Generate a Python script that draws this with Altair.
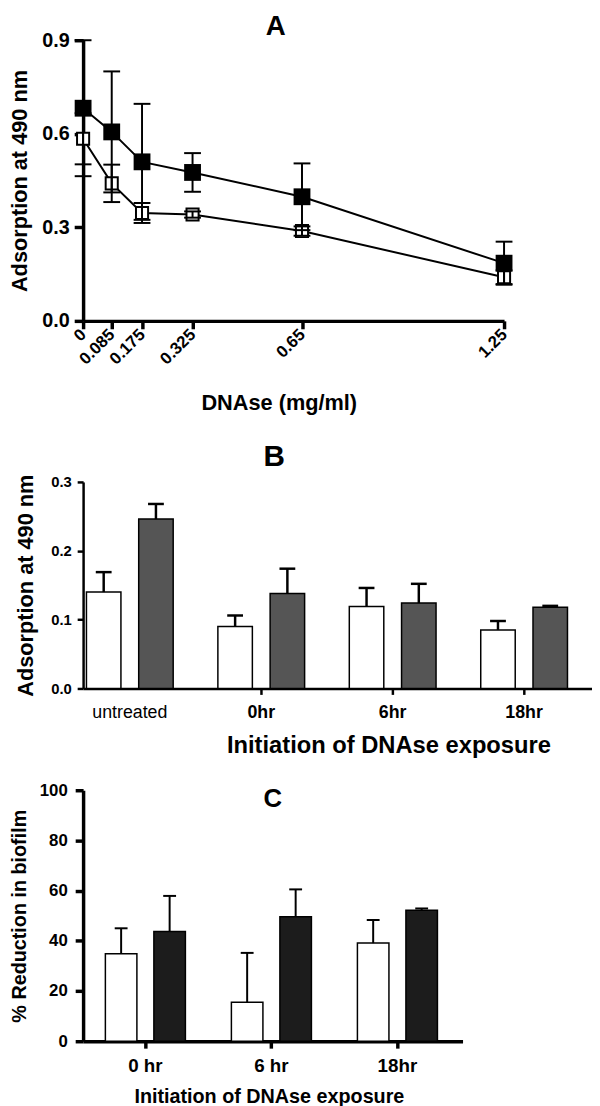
import altair as alt
import pandas as pd

FONT = "Liberation Sans"

# ---------------- Panel A data ----------------
conc = [0, 0.085, 0.175, 0.325, 0.65, 1.25]
filled_mean = [0.682, 0.606, 0.510, 0.476, 0.398, 0.185]
filled_err = [0.218, 0.194, 0.186, 0.062, 0.107, 0.069]
open_mean = [0.584, 0.441, 0.346, 0.341, 0.288, 0.140]
open_err = [0.082, 0.060, 0.032, 0.010, 0.015, 0.022]

# ---------------- Panel B data ----------------
b_groups = ["untreated", "0hr", "6hr", "18hr"]
b_white = [0.140, 0.090, 0.119, 0.085]
b_white_err = [0.029, 0.016, 0.027, 0.013]
b_dark = [0.246, 0.138, 0.124, 0.118]
b_dark_err = [0.022, 0.036, 0.028, 0.002]

# ---------------- Panel C data ----------------
c_groups = ["0 hr", "6 hr", "18hr"]
c_white = [34.9, 15.5, 39.1]
c_white_err = [10.1, 19.7, 9.2]
c_black = [43.7, 49.6, 52.2]
c_black_err = [14.2, 10.9, 0.7]

# ---------------- Panel A ----------------
rows_a = []
for i, c in enumerate(conc):
    rows_a.append(dict(conc=c, series="open", mean=open_mean[i],
                       lo=open_mean[i] - open_err[i], hi=open_mean[i] + open_err[i]))
    rows_a.append(dict(conc=c, series="filled", mean=filled_mean[i],
                       lo=filled_mean[i] - filled_err[i], hi=filled_mean[i] + filled_err[i]))
df_a = pd.DataFrame(rows_a)

WA, HA = 426, 284
ytitle_a = "Adsorption at 490 nm"
xA = alt.X("conc:Q", scale=alt.Scale(domain=[0, 1.25], nice=False, zero=False),
           axis=alt.Axis(values=conc, format=".3~f", title="DNAse (mg/ml)",
                         labelAngle=-45, labelAlign="right", labelBaseline="middle",
                         labelFontSize=17, labelFontWeight="bold", labelPadding=3,
                         labelOverlap=False, labelBound=False,
                         tickSize=8, tickWidth=3.5, domainWidth=3.5,
                         titleFontSize=22, titleX=198, titleY=73, titleBaseline="top"))
yA = alt.Y("mean:Q", scale=alt.Scale(domain=[0, 0.9], nice=False),
           axis=alt.Axis(values=[0, 0.3, 0.6, 0.9], format=".1f", title=ytitle_a,
                         labelFontSize=20, labelFontWeight="bold", labelPadding=5,
                         tickSize=9, tickWidth=3.5, domainWidth=3.5,
                         titleFontSize=22, titleX=-52, titleY=HA / 2))
base_a = alt.Chart(df_a)
lines_a = base_a.mark_line(color="black", strokeWidth=2).encode(x=xA, y=yA, detail="series:N")
open_pts = base_a.transform_filter("datum.series == 'open'").mark_square(
    fill="white", stroke="black", strokeWidth=2, size=150, opacity=1
).encode(x="conc:Q", y=alt.Y("mean:Q", title=ytitle_a))
err_a = base_a.mark_rule(color="black", strokeWidth=2).encode(
    x="conc:Q", y=alt.Y("lo:Q", title=ytitle_a), y2="hi:Q")
cap_lo_a = base_a.mark_tick(orient="horizontal", size=17, thickness=2, color="black", opacity=1).encode(
    x="conc:Q", y=alt.Y("lo:Q", title=ytitle_a))
cap_hi_a = base_a.mark_tick(orient="horizontal", size=17, thickness=2, color="black", opacity=1).encode(
    x="conc:Q", y=alt.Y("hi:Q", title=ytitle_a))
filled_pts = base_a.transform_filter("datum.series == 'filled'").mark_square(
    color="black", size=290, opacity=1
).encode(x="conc:Q", y=alt.Y("mean:Q", title=ytitle_a))

chart_a = alt.layer(lines_a, open_pts, err_a, cap_lo_a, cap_hi_a, filled_pts).properties(
    width=WA, height=HA,
    title=alt.TitleParams("A", fontSize=28, fontWeight="bold", dx=-18, offset=-11))

# ---------------- Panel B ----------------
rows_b = []
for i, g in enumerate(b_groups):
    rows_b.append(dict(grpB=g, serB="white", value=b_white[i], hi=b_white[i] + b_white_err[i]))
    rows_b.append(dict(grpB=g, serB="dark", value=b_dark[i], hi=b_dark[i] + b_dark_err[i]))
df_b = pd.DataFrame(rows_b)

WB, HB = 515, 209
ytitle_b = "Adsorption at 490 nm"
xB = alt.X("grpB:N", sort=b_groups,
           scale=alt.Scale(paddingInner=0.34, paddingOuter=0.106, align=0.12),
           axis=alt.Axis(title="Initiation of DNAse exposure", labelAngle=0,
                         labelFontSize=18,
                         labelFontWeight={"condition": {"test": "datum.value == 'untreated'", "value": "normal"}, "value": "bold"},
                         tickOpacity={"condition": {"test": "datum.value == 'untreated'", "value": 0}, "value": 1},
                         labelPadding=9, tickSize=6, tickWidth=2.5, domainWidth=2.5,
                         titleFontSize=24, titleX=309, titleY=46, titleBaseline="top"))
xoffB = alt.XOffset("serB:N", sort=["white", "dark"], scale=alt.Scale(paddingInner=0.34, paddingOuter=0))
yB = alt.Y("value:Q", scale=alt.Scale(domain=[0, 0.3], nice=False),
           axis=alt.Axis(values=[0, 0.1, 0.2, 0.3], format=".1f", title=ytitle_b,
                         labelFontSize=15, labelFontWeight="bold", labelPadding=6,
                         tickSize=6, tickWidth=2.5, domainWidth=2.5,
                         titleFontSize=22, titleX=-46, titleY=HB / 2))
base_b = alt.Chart(df_b)
bars_b = base_b.mark_bar(stroke="black", strokeWidth=1.5, opacity=1).encode(
    x=xB, xOffset=xoffB, y=yB,
    color=alt.Color("serB:N", scale=alt.Scale(domain=["white", "dark"], range=["#ffffff", "#555555"]), legend=None))
err_b = base_b.mark_rule(color="black", strokeWidth=2.5).encode(
    x=xB, xOffset=xoffB, y=alt.Y("value:Q", title=ytitle_b), y2="hi:Q")
cap_b = base_b.mark_tick(orient="horizontal", size=16, thickness=2.5, color="black", opacity=1).encode(
    x=xB, xOffset=xoffB, y=alt.Y("hi:Q", title=ytitle_b))
chart_b = alt.layer(bars_b, err_b, cap_b).properties(
    width=WB, height=HB,
    title=alt.TitleParams("B", fontSize=30, fontWeight="bold", dx=-64, offset=2))

# ---------------- Panel C ----------------
rows_c = []
for i, g in enumerate(c_groups):
    rows_c.append(dict(grpC=g, serC="cwhite", value=c_white[i], hi=c_white[i] + c_white_err[i]))
    rows_c.append(dict(grpC=g, serC="cblack", value=c_black[i], hi=c_black[i] + c_black_err[i]))
df_c = pd.DataFrame(rows_c)

WC, HC = 384, 254
ytitle_c = "% Reduction in biofilm"
xC = alt.X("grpC:N", sort=c_groups,
           scale=alt.Scale(paddingInner=0.365, paddingOuter=0.188, align=0.47),
           axis=alt.Axis(title="Initiation of DNAse exposure", labelAngle=0,
                         labelFontSize=19, labelFontWeight="bold", labelPadding=9,
                         tickSize=7, tickWidth=3.5, domainWidth=3.5,
                         titleFontSize=20, titleX=188, titleY=46, titleBaseline="top"))
xoffC = alt.XOffset("serC:N", sort=["cwhite", "cblack"], scale=alt.Scale(paddingInner=0.35, paddingOuter=0))
yC = alt.Y("value:Q", scale=alt.Scale(domain=[0, 100], nice=False),
           axis=alt.Axis(values=[0, 20, 40, 60, 80, 100], title=ytitle_c,
                         labelFontSize=17, labelFontWeight="bold", labelPadding=8,
                         tickSize=8, tickWidth=3.5, domainWidth=3.5,
                         titleFontSize=20, titleX=-54, titleY=HC / 2))
base_c = alt.Chart(df_c)
bars_c = base_c.mark_bar(stroke="black", strokeWidth=1.5, opacity=1).encode(
    x=xC, xOffset=xoffC, y=yC,
    color=alt.Color("serC:N", scale=alt.Scale(domain=["cwhite", "cblack"], range=["#ffffff", "#1c1c1c"]), legend=None))
err_c = base_c.mark_rule(color="black", strokeWidth=2).encode(
    x=xC, xOffset=xoffC, y=alt.Y("value:Q", title=ytitle_c), y2="hi:Q")
cap_c = base_c.mark_tick(orient="horizontal", size=13, thickness=2, color="black", opacity=1).encode(
    x=xC, xOffset=xoffC, y=alt.Y("hi:Q", title=ytitle_c))
chart_c = alt.layer(bars_c, err_c, cap_c).properties(
    width=WC, height=HC,
    title=alt.TitleParams("C", fontSize=26, fontWeight="bold", dy=35))

chart = alt.vconcat(
    chart_a,
    alt.vconcat(chart_b, chart_c, spacing=24).resolve_scale(color="independent", x="independent", xOffset="independent"),
    spacing=29,
).resolve_scale(color="independent", x="independent", xOffset="independent").properties(
    padding={"left": 0, "top": -1, "right": 0, "bottom": 0}
).configure(font=FONT).configure_view(stroke=None).configure_axis(
    domainColor="black", tickColor="black", labelColor="black", titleColor="black",
    grid=False, labelFont=FONT, titleFont=FONT, titleFontWeight="bold"
).configure_title(font=FONT, color="black", anchor="middle")

chart.save("out.html", embed_options={"renderer": "svg", "actions": False})
